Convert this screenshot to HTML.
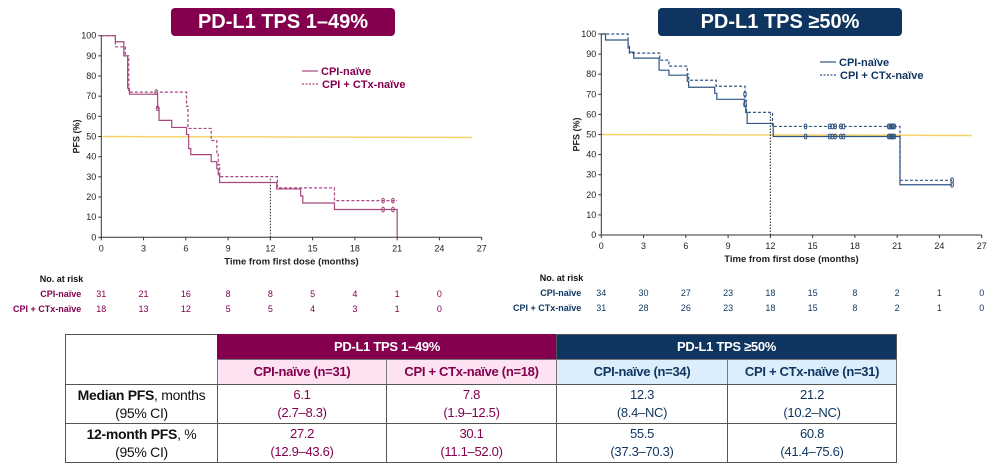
<!DOCTYPE html>
<html><head><meta charset="utf-8">
<style>
body{margin:0;width:1000px;height:468px;background:#fff;position:relative;overflow:hidden;font-family:"Liberation Sans",Arial,sans-serif}
.title{position:absolute;top:8px;height:28px;border-radius:4px;color:#fff;font-weight:bold;font-size:20px;line-height:28px;text-align:center}
.c{position:absolute;box-sizing:border-box;text-align:center;font-size:13px;letter-spacing:-0.3px;display:flex;align-items:center;justify-content:center;flex-direction:column;line-height:18px}
svg text{font-family:"Liberation Sans",Arial,sans-serif}
</style></head><body>
<div class="title" style="left:171px;width:224px;background:#84004f">PD-L1 TPS 1–49%</div>
<div class="title" style="left:658px;width:244px;background:#0e355f">PD-L1 TPS ≥50%</div>
<svg id="chart" width="1000" height="330" style="position:absolute;left:0;top:0"></svg>

<div>
<div class="c" style="left:65px;top:334px;width:153px;height:51px;border:1px solid #555"></div>
<div class="c" style="left:217px;top:334px;width:340px;height:26px;background:#84004f;color:#fff;font-weight:bold">PD-L1 TPS 1–49%</div>
<div class="c" style="left:556px;top:334px;width:341px;height:26px;background:#0e355f;color:#fff;font-weight:bold;border:1px solid #555">PD-L1 TPS ≥50%</div>
<div class="c" style="left:217px;top:359px;width:170px;height:26px;background:#fde2f1;color:#84004f;font-weight:bold;border:1px solid #777">CPI-naïve (n=31)</div>
<div class="c" style="left:386px;top:359px;width:171px;height:26px;background:#fde2f1;color:#84004f;font-weight:bold;border:1px solid #777">CPI + CTx-naïve (n=18)</div>
<div class="c" style="left:556px;top:359px;width:172px;height:26px;background:#dcedfb;color:#0e355f;font-weight:bold;border:1px solid #777">CPI-naïve (n=34)</div>
<div class="c" style="left:727px;top:359px;width:170px;height:26px;background:#dcedfb;color:#0e355f;font-weight:bold;border:1px solid #777">CPI + CTx-naïve (n=31)</div>
<div class="c" style="left:65px;top:384px;width:153px;height:40px;border:1px solid #555;color:#111;font-size:14px"><span><b>Median PFS</b>, months</span><span>(95% CI)</span></div>
<div class="c" style="left:217px;top:384px;width:170px;height:40px;border:1px solid #555;color:#84004f">6.1<br>(2.7–8.3)</div>
<div class="c" style="left:386px;top:384px;width:171px;height:40px;border:1px solid #555;color:#84004f">7.8<br>(1.9–12.5)</div>
<div class="c" style="left:556px;top:384px;width:172px;height:40px;border:1px solid #555;color:#0e355f">12.3<br>(8.4–NC)</div>
<div class="c" style="left:727px;top:384px;width:170px;height:40px;border:1px solid #555;color:#0e355f">21.2<br>(10.2–NC)</div>
<div class="c" style="left:65px;top:423px;width:153px;height:40px;border:1px solid #555;color:#111;font-size:14px"><span><b>12-month PFS</b>, %</span><span>(95% CI)</span></div>
<div class="c" style="left:217px;top:423px;width:170px;height:40px;border:1px solid #555;color:#84004f">27.2<br>(12.9–43.6)</div>
<div class="c" style="left:386px;top:423px;width:171px;height:40px;border:1px solid #555;color:#84004f">30.1<br>(11.1–52.0)</div>
<div class="c" style="left:556px;top:423px;width:172px;height:40px;border:1px solid #555;color:#0e355f">55.5<br>(37.3–70.3)</div>
<div class="c" style="left:727px;top:423px;width:170px;height:40px;border:1px solid #555;color:#0e355f">60.8<br>(41.4–75.6)</div>
</div>

<script>
const xTicks=[0,3,6,9,12,15,18,21,24,27];
const yTicks=[0,10,20,30,40,50,60,70,80,90,100];
const leftCpiT=[0,1.0,1.6,1.87,2.0,2.75,4.0,4.1,5.0,6.05,6.2,6.35,7.8,8.2,8.3,8.4,12.45,14.15,14.3,16.55,21];
const leftCpiS=[100,97,90,74,71,71,64,58,54.5,51,44,41,37.5,34,31,27.2,24,20.5,17,13.8,0];
const leftCtxT=[0,1.0,1.7,1.95,6.05,6.15,7.8,8.2,8.3,8.4,12.5,16.55,21];
const leftCtxS=[100,94.5,90,72,65,54,48,42,36,30.1,24.5,18.2,18.2];
const leftCensCpi=[[4.0,64],[20.0,13.8],[20.7,13.8]];
const leftCensCtx=[[3.9,72],[20.0,18.2],[20.7,18.2]];
const rightCpiT=[0,0.3,1.9,2.0,2.3,4.1,4.8,6.1,6.2,8.05,8.2,10.15,10.25,10.35,12.2,21.2,24.9];
const rightCpiS=[100,97,93,91,88,82,79.5,76.5,73.5,70.5,67.5,64,61,55.5,49,25,25];
const rightCtxT=[0,1.9,2.0,4.15,4.8,6.1,6.2,8.15,10.2,10.3,12.15,21.2,24.9];
const rightCtxS=[100,94,90.5,87,84,80,77,74,67,61,54,27.2,27.2];
const rightCensMonths=[14.5,16.2,16.4,16.6,17.0,17.2,20.4,20.5,20.6,20.7,20.8];
const leftRiskCpi=[31,21,16,8,8,5,4,1,0];
const leftRiskCtx=[18,13,12,5,5,4,3,1,0];
const rightRiskCpi=[34,30,27,23,18,15,8,2,1,0];
const rightRiskCtx=[31,28,26,23,18,15,8,2,1,0];

const svg=document.getElementById('chart');
const NS='http://www.w3.org/2000/svg';
function el(tag,attrs,parent){const e=document.createElementNS(NS,tag);for(const k in attrs)e.setAttribute(k,attrs[k]);(parent||svg).appendChild(e);return e;}
function txt(x,y,s,attrs){const t=el('text',Object.assign({x:x,y:y},attrs));t.textContent=s;return t;}

function chart(id,x0,x1,y0,y100,c1,c2,cpiT,cpiS,ctxT,ctxS,riskA,riskB,riskY,censFn,dropTo,legX,legY){
  const g=el('g',{});
  
  
  const sx=m=>x0+(x1-x0)*m/27, sy=v=>y0-(y0-y100)*v/100;
  const ref=el('line',{x1:sx(0),x2:sx(26.3),y1:sy(50),y2:sy(49.5),stroke:'#f6d36a','stroke-width':1.5},g);
  
  
  const dl=el('line',{x1:sx(12),x2:sx(12),y1:sy(0),y2:sy(dropTo),stroke:'#222','stroke-dasharray':'1.5,1.5','stroke-width':1},g);
  
  
  el('line',{x1:x0,x2:x0,y1:y100,y2:y0,stroke:'#333'},g);
  el('line',{x1:x0,x2:x1,y1:y0,y2:y0,stroke:'#333'},g);
  yTicks.forEach(v=>{el('line',{x1:x0-3,x2:x0,y1:sy(v),y2:sy(v),stroke:'#333'},g);
    const t=txt(x0-5,sy(v)+3,String(v),{'font-size':9,'text-anchor':'end',fill:'#222'});
    });
  xTicks.forEach(v=>{el('line',{x1:sx(v),x2:sx(v),y1:y0,y2:y0+3,stroke:'#333'},g);
    const t=txt(sx(v),y0+14,String(v),{'font-size':9,'text-anchor':'middle',fill:'#222'});
    });
  const xt=txt((x0+x1)/2,y0+27,'Time from first dose (months)',{'font-size':9.5,'font-weight':'bold','text-anchor':'middle',fill:'#222'});
  
  const yt=txt(0,0,'PFS (%)',{'font-size':9,'font-weight':'bold','text-anchor':'middle',fill:'#222',transform:`translate(${x0-22},${(y0+y100)/2}) rotate(-90)`});
  
  function step(T,S,col,dash,name){
    let d=`M${sx(T[0])},${sy(S[0])}`;
    for(let i=1;i<T.length;i++){d+=`H${sx(T[i])}V${sy(S[i])}`;}
    const p=el('path',{d:d,fill:'none',stroke:col,'stroke-width':1.2,'stroke-dasharray':dash},g);
    
  }
  step(cpiT,cpiS,c1,'none','cpi-naive-curve');
  step(ctxT,ctxS,c1,'3,2','cpi-ctx-naive-curve');
  censFn(sx,sy,g);
  el('line',{x1:legX,x2:legX+16,y1:legY,y2:legY,stroke:c1,'stroke-width':1.2},g);
  el('line',{x1:legX,x2:legX+16,y1:legY+13,y2:legY+13,stroke:c1,'stroke-width':1.2,'stroke-dasharray':'2,1.5'},g);
  const l1=txt(legX+19,legY+4,'CPI-naïve',{'font-size':11,'font-weight':'bold',fill:c2});
  
  const l2=txt(legX+20,legY+17,'CPI + CTx-naïve',{'font-size':11,'font-weight':'bold',fill:c2});
  
  const nr=txt(x0-18,riskY-15,'No. at risk',{'font-size':9,'font-weight':'bold','text-anchor':'end',fill:'#111'});
  
  txt(x0-20,riskY,'CPI-naïve',{'font-size':9,'font-weight':'bold','text-anchor':'end',fill:c2});
  txt(x0-20,riskY+15,'CPI + CTx-naïve',{'font-size':9,'font-weight':'bold','text-anchor':'end',fill:c2});
  riskA.forEach((v,i)=>{const t=txt(sx(i*3),riskY,String(v),{'font-size':9,'text-anchor':'middle',fill:c2});
    });
  riskB.forEach((v,i)=>{const t=txt(sx(i*3),riskY+15,String(v),{'font-size':9,'text-anchor':'middle',fill:c2});
    });
}
function cens(g,x,y,col){const e=el('ellipse',{cx:x,cy:y,rx:1.3,ry:2.4,fill:'none',stroke:col,'stroke-width':1},g);
  }

chart('left',101.3,481.7,237.3,35.7,'#a8467f','#84004f',leftCpiT,leftCpiS,leftCtxT,leftCtxS,leftRiskCpi,leftRiskCtx,297,
  (sx,sy,g)=>{leftCensCpi.forEach(p=>cens(g,sx(p[0]),sy(p[1]),'#a8467f'));leftCensCtx.forEach(p=>cens(g,sx(p[0]),sy(p[1]),'#a8467f'));},
  29,302,71);
chart('right',601.3,981.7,235,34,'#2f5583','#0e355f',rightCpiT,rightCpiS,rightCtxT,rightCtxS,rightRiskCpi,rightRiskCtx,296,
  (sx,sy,g)=>{rightCensMonths.forEach(m=>{cens(g,sx(m),sy(54),'#2f5583');cens(g,sx(m),sy(49),'#2f5583');});
    cens(g,sx(10.2),sy(70),'#2f5583');cens(g,sx(10.2),sy(65),'#2f5583');cens(g,sx(24.9),sy(27.2),'#2f5583');cens(g,sx(24.9),sy(25),'#2f5583');},
  61,820,62);
</script>
</body></html>
